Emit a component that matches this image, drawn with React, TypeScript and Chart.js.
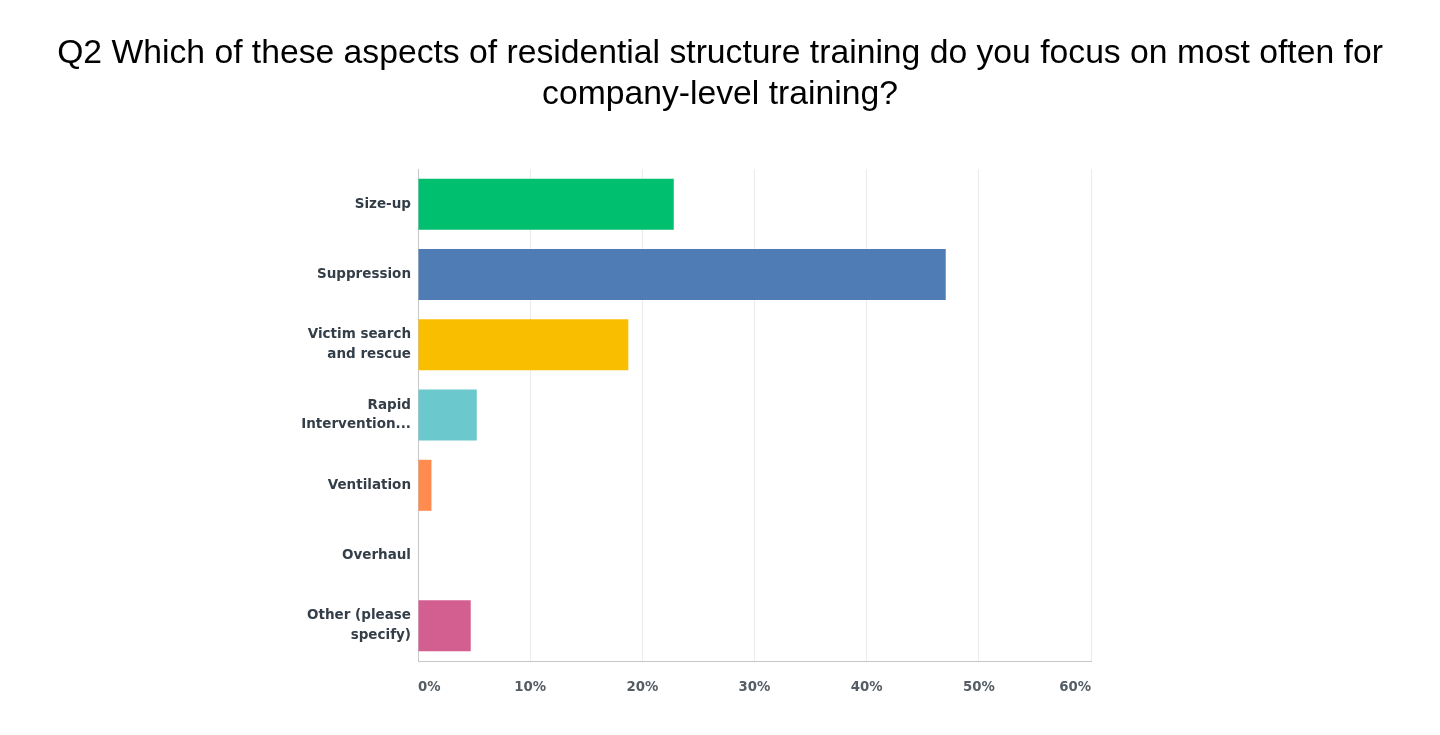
import React, { useEffect, useRef } from "react";
import { Chart, registerables } from "chart.js";

Chart.register(...registerables);

const titleLines = [
  "Q2 Which of these aspects of residential structure training do you focus on most often for",
  "company-level training?",
];
const categories: (string | string[])[] = [
  "Size-up",
  "Suppression",
  ["Victim search", "and rescue"],
  ["Rapid", "Intervention..."],
  "Ventilation",
  "Overhaul",
  ["Other (please", "specify)"],
];
const values = [22.8, 47.05, 18.75, 5.24, 1.2, 0, 4.7];
const barColors = ["#00bf6f", "#507cb6", "#f9be00", "#6bc8cd", "#ff8b4f", "#a5c9d8", "#d25f90"];
const xTicks = [0, 10, 20, 30, 40, 50, 60];

const titlePlugin = {
  id: "customTitle",
  afterDraw(chart: any) {
    const ctx = chart.ctx;
    ctx.save();
    ctx.fillStyle = "#000000";
    ctx.font = "33.7px 'Liberation Sans', Arial, sans-serif";
    ctx.textAlign = "center";
    ctx.textBaseline = "middle";
    const cx = chart.width / 2;
    titleLines.forEach((line, i) => {
      ctx.fillText(line, cx, 54 + i * 41);
    });
    ctx.restore();
  },
};

export default function App() {
  const ref = useRef<HTMLCanvasElement | null>(null);
  useEffect(() => {
    if (!ref.current) return;
    const chart = new Chart(ref.current, {
      type: "bar",
      data: {
        labels: categories,
        datasets: [
          {
            data: values,
            backgroundColor: barColors,
            borderWidth: 0,
            barPercentage: 0.726,
            categoryPercentage: 1,
          },
        ],
      },
      options: {
        indexAxis: "y",
        animation: false,
        responsive: false,
        layout: { padding: { left: 298, right: 349, top: 169, bottom: 34 } },
        plugins: {
          legend: { display: false },
          tooltip: { enabled: false },
          title: { display: false },
        },
        scales: {
          x: {
            min: 0,
            max: 60,
            afterBuildTicks: (scale: any) => {
              scale.ticks = xTicks.map((v) => ({ value: v }));
            },
            afterFit: (scale: any) => {
              scale.height = 40;
            },
            grid: { color: "#ebebeb", lineWidth: 1, drawTicks: false },
            border: { color: "#c8c8c8", width: 1 },
            ticks: {
              align: "inner",
              padding: 19,
              color: "#545d65",
              font: { family: "'DejaVu Sans', sans-serif", size: 13.3, weight: "bold" },
              callback: (v: any) => v + "%",
            },
          },
          y: {
            afterFit: (scale: any) => {
              scale.width = 120;
            },
            grid: { display: false, drawTicks: false },
            border: { color: "#c8c8c8", width: 1 },
            ticks: {
              padding: 7,
              color: "#333e48",
              font: { family: "'DejaVu Sans', sans-serif", size: 13.5, weight: "bold", lineHeight: 1.48 },
            },
          },
        },
      },
      plugins: [titlePlugin],
    } as any);
    return () => chart.destroy();
  }, []);
  return (
    <div style={{ position: "fixed", left: 0, top: 0, width: 1440, height: 735, background: "#fff" }}>
      <canvas ref={ref} width={1440} height={735} style={{ display: "block" }} />
    </div>
  );
}
